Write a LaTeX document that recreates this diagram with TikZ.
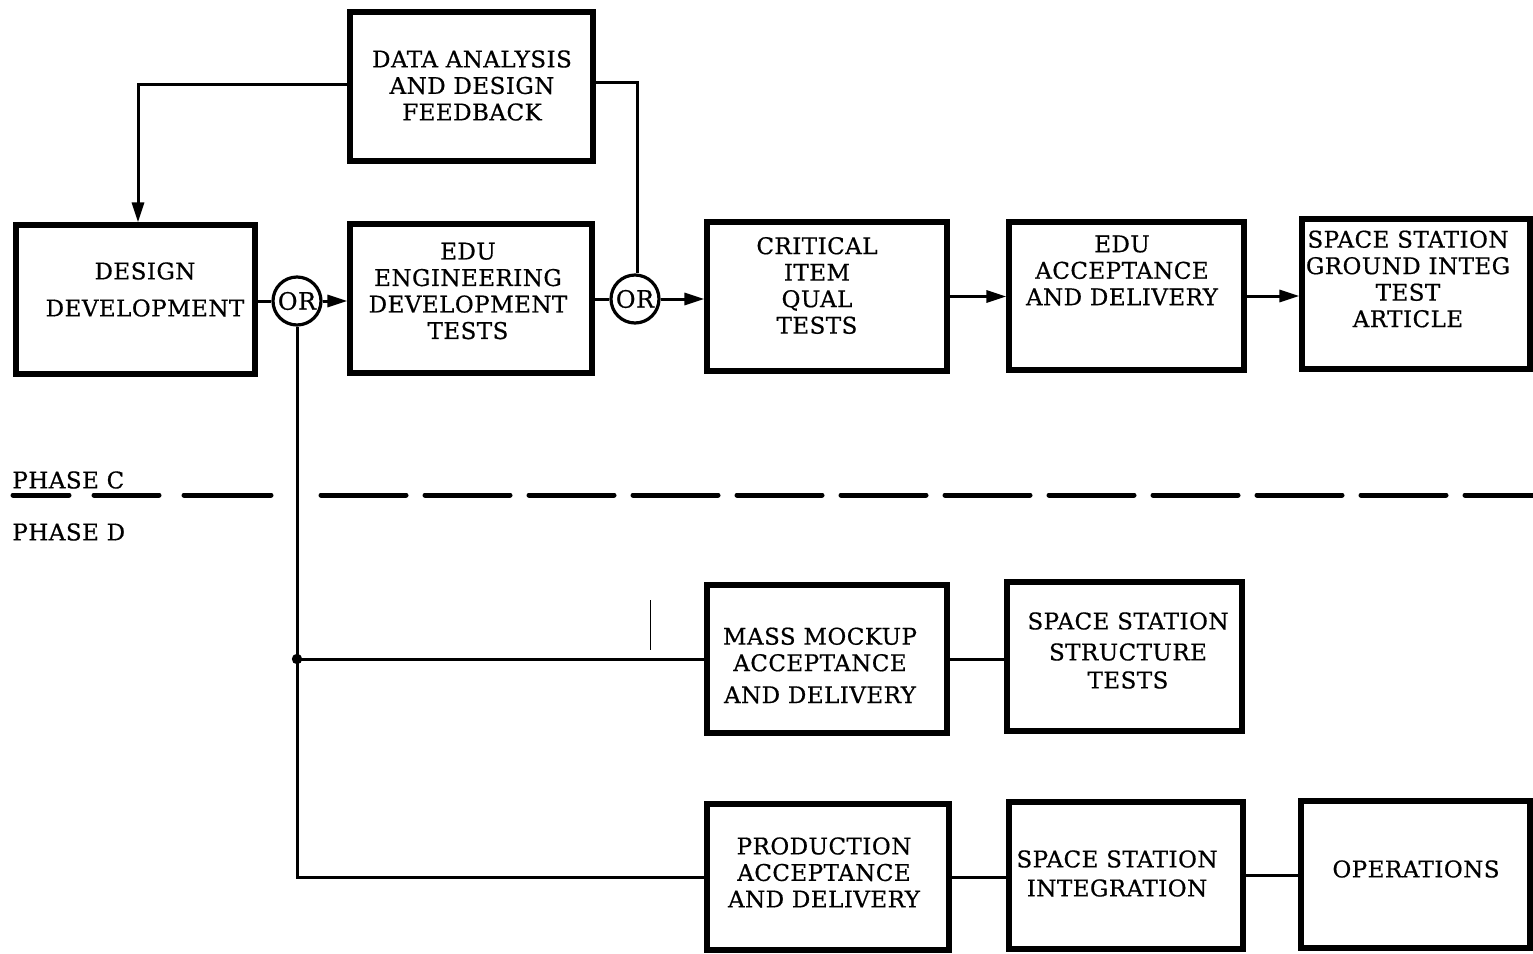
\documentclass[tikz,border=0pt]{standalone}
\usepackage{fontspec}
\setmainfont{DejaVu Serif}[LetterSpace=2, FakeBold=0.6]
\usetikzlibrary{arrows.meta}
\tikzset{
  x=0.5pt, y=-0.5pt,
  blk/.style={draw, line width=2.6pt, inner sep=0pt},
  txt/.style={align=center, inner sep=0pt, font=\fontsize{11.5}{13.25}\selectfont},
  orc/.style={draw, circle, line width=1.6pt, inner sep=0pt, minimum size=24pt, font=\fontsize{12}{13.25}\selectfont},
  conn/.style={line width=1.5pt},
  arr/.style={conn, -{Triangle[length=10pt,width=6pt]}},
  phase/.style={line width=2.5pt, line cap=round}
}
\begin{document}
\begin{tikzpicture}
\useasboundingbox (0,0) rectangle (1533,954);
% boxes
\node[blk, minimum width=121.5pt, minimum height=74.5pt] (da)  at (471.5,86.5) {};
\node[blk, minimum width=119.5pt, minimum height=74.5pt] (dd)  at (135.5,299.5) {};
\node[blk, minimum width=121pt,   minimum height=74.5pt] (edu) at (471,298.5) {};
\node[blk, minimum width=120pt,   minimum height=74.5pt] (cit) at (827,296.5) {};
\node[blk, minimum width=117.5pt, minimum height=74pt]   (eac) at (1126.5,296) {};
\node[blk, minimum width=114pt,   minimum height=75pt]   (ssg) at (1416,294) {};
\node[blk, minimum width=120pt,   minimum height=74pt]   (mm)  at (827,659) {};
\node[blk, minimum width=117.5pt, minimum height=74.5pt] (sst) at (1124.5,656.5) {};
\node[blk, minimum width=121pt,   minimum height=73pt]   (pad) at (828,877) {};
\node[blk, minimum width=117pt,   minimum height=73.5pt] (ssi) at (1126,875.5) {};
\node[blk, minimum width=114.5pt, minimum height=73.5pt] (ops) at (1415.5,874.5) {};
% texts
\node[txt] (da-t)  at (472,85.5)   {DATA ANALYSIS\\AND DESIGN\\FEEDBACK};
\node[txt] (dd-t)  at (145,289.5)  {DESIGN\\[5.25pt]DEVELOPMENT};
\node[txt] (edu-t) at (468,291)    {EDU\\ENGINEERING\\DEVELOPMENT\\TESTS};
\node[txt] (cit-t) at (817,285.5)  {CRITICAL\\ITEM\\QUAL\\TESTS};
\node[txt] (eac-t) at (1122,270.5) {EDU\\ACCEPTANCE\\AND DELIVERY};
\node[txt] (ssg-t) at (1408,279)   {SPACE STATION\\GROUND INTEG\\TEST\\ARTICLE};
\node[txt] (mm-t)  at (820,665.5)  {MASS MOCKUP\\ACCEPTANCE\\[2.75pt]AND DELIVERY};
\node[txt] (sst-t) at (1128,650.5) {SPACE STATION\\[2.25pt]STRUCTURE\\[0.75pt]TESTS};
\node[txt] (pad-t) at (824,872.5)  {PRODUCTION\\ACCEPTANCE\\AND DELIVERY};
\node[txt] (ssi-t) at (1117,873.5) {SPACE STATION\\[1.25pt]INTEGRATION};
\node[txt] (ops-t) at (1416,869)   {OPERATIONS};
\node[txt, anchor=west] (pc) at (12,480) {PHASE C};
\node[txt, anchor=west] (pd) at (12,532) {PHASE D};
% OR junctions
\node[orc] (or1) at (297,301) {OR};
\node[orc] (or2) at (635,299) {OR};
% connectors
\draw[conn] (dd.east |- or1) -- (or1.west);
\draw[arr]  (or1.east) -- (edu.west |- or1);
\draw[conn] (edu.east |- or2) -- (or2.west);
\draw[arr]  (or2.east) -- (cit.west |- or2);
\draw[arr]  (cit.east) -- (cit.east -| eac.west);
\draw[arr]  (eac.east) -- (eac.east -| ssg.west);
\draw[arr]  ([yshift=1.25pt]da.west) -| ([xshift=1.25pt]dd.north);
\draw[conn] ([yshift=2.25pt]da.east) -| ([xshift=1pt]or2.north);
\draw[conn] (or1.south) |- (pad.west);
\coordinate (j) at (or1 |- mm.west);
\fill (j) circle (2.6pt);
\draw[conn] (j) -- (mm.west);
\draw[conn] (mm.east) -- (mm.east -| sst.west);
\draw[conn] (pad.east) -- (pad.east -| ssi.west);
\draw[conn] (ssi.east) -- (ssi.east -| ops.west);
% thin stray mark
\draw[line width=0.5pt] (650,600) -- (650,650);
% phase boundary
\draw[phase, dash pattern=on 28pt off 12.5pt on 32.5pt off 12.5pt on 43.5pt off 100pt] (13,495) -- (274,495);
\draw[phase, dash pattern=on 42.5pt off 9.5pt] (321,495) -- (1540,495);
\end{tikzpicture}
\end{document}
